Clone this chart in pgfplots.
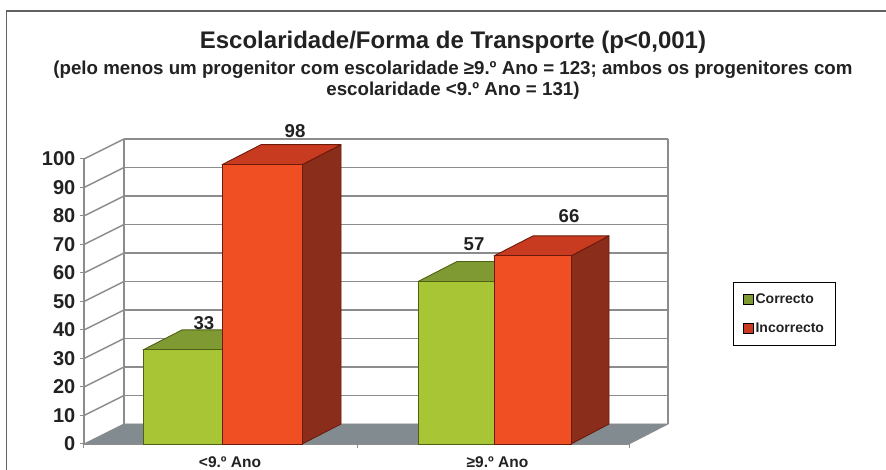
\documentclass[border=0pt]{standalone}
\usepackage{fontspec}
\setmainfont{Liberation Sans}
\usepackage{pgfplots}
\pgfplotsset{compat=1.18}
\definecolor{gfront}{HTML}{A8C535}
\definecolor{gtop}{HTML}{7F9A33}
\definecolor{gline}{HTML}{4F6014}
\definecolor{rfront}{HTML}{F04E23}
\definecolor{rtop}{HTML}{C93B20}
\definecolor{rside}{HTML}{8A2E1B}
\definecolor{rline}{HTML}{6B1A0C}
\definecolor{floorc}{HTML}{828C90}
\definecolor{gridc}{HTML}{8C8C8C}
\definecolor{ink}{HTML}{222222}
\newcommand{\fs}[1]{\fontsize{#1}{#1}\selectfont\bfseries}
\pgfplotsset{
  poly/.style={forget plot,mark=none,line width=0.9pt,line join=round},
  gridl/.style={forget plot,mark=none,draw=gridc,line width=1.4pt},
  bar3/.style={forget plot,ybar,bar shift=0pt,line width=0.9pt},
}
\begin{document}
\begin{tikzpicture}
\path[use as bounding box] (-84pt,-26pt) rectangle (802pt,444pt);
\fill[white] (-84pt,-26pt) rectangle (802pt,444pt);
\begin{axis}[
  scale only axis,width=545pt,height=285pt,
  xmin=84,xmax=629,ymin=0,ymax=100,clip=false,
  axis x line*=bottom,axis y line*=left,
  axis line style={draw=gridc,line width=1.5pt,-},
  ytick={0,10,...,100},
  xtick={230,497.5},xticklabels={{<9.º Ano},{≥9.º Ano}},
  minor xtick={84,357,629},
  tick align=outside,
  tick style={draw=gridc,line width=1pt},
  major tick length=4pt,minor tick length=4pt,
  every major x tick/.append style={draw=none},
  /pgf/number format/assume math mode=true,
  yticklabel style={font=\fs{20},text=ink,xshift=-2.5pt,inner sep=2pt},
  xticklabel style={font=\fs{15.5},text=ink,inner sep=0pt,yshift=-8pt},
  title={{\fs{24}Escolaridade/Forma de Transporte (p<0,001)}\\[7pt]
         {\fs{18.7}(pelo menos um progenitor com escolaridade ≥9.º Ano = 123; ambos os progenitores com}\\[2pt]
         {\fs{18.7}escolaridade <9.º Ano = 131)}},
  title style={at={(axis description cs:0.677,1.43)},anchor=north,align=center,text=ink,inner sep=0pt},
  legend style={at={(axis description cs:1.1908,0.570)},anchor=north west,draw=black,line width=0.8pt,
    font=\fs{14},text=ink,inner xsep=9.4pt,inner ysep=9.5pt,
    nodes={inner sep=2pt},row sep=14.5pt},
  legend cell align=left,
  legend image code/.code={\fill[#1] (0pt,-5pt) rectangle (10pt,5pt);},
]
% back wall gridlines
\addplot[gridl] coordinates {(124,17.02) (668,17.02)};
\addplot[gridl] coordinates {(124,27.02) (668,27.02)};
\addplot[gridl] coordinates {(124,37.02) (668,37.02)};
\addplot[gridl] coordinates {(124,47.02) (668,47.02)};
\addplot[gridl] coordinates {(124,57.02) (668,57.02)};
\addplot[gridl] coordinates {(124,67.02) (668,67.02)};
\addplot[gridl] coordinates {(124,77.02) (668,77.02)};
\addplot[gridl] coordinates {(124,87.02) (668,87.02)};
\addplot[gridl] coordinates {(124,97.02) (668,97.02)};
\addplot[gridl] coordinates {(124,107.02) (668,107.02)};
\addplot[gridl] coordinates {(124,7.02) (124,107.02)};
\addplot[gridl] coordinates {(668,7.02) (668,107.02)};
% side wall lines
\addplot[gridl] coordinates {(84,10) (124,17.02)};
\addplot[gridl] coordinates {(84,20) (124,27.02)};
\addplot[gridl] coordinates {(84,30) (124,37.02)};
\addplot[gridl] coordinates {(84,40) (124,47.02)};
\addplot[gridl] coordinates {(84,50) (124,57.02)};
\addplot[gridl] coordinates {(84,60) (124,67.02)};
\addplot[gridl] coordinates {(84,70) (124,77.02)};
\addplot[gridl] coordinates {(84,80) (124,87.02)};
\addplot[gridl] coordinates {(84,90) (124,97.02)};
\addplot[gridl] coordinates {(84,100) (124,107.02)};
% floor
\addplot[poly,fill=floorc,draw=gridc] coordinates {(84,0) (629,0) (668,7.02) (124,7.02)} -- cycle;
% group 1 green
\addplot[poly,fill=gtop,draw=gline] coordinates {(143,33) (222,33) (261,40.02) (182,40.02)} -- cycle;
\addplot[bar3,bar width=79,fill=gfront,draw=gline] coordinates {(182.5,33)};
% group 1 red
\addplot[poly,fill=rside,draw=rline] coordinates {(302,0) (341,7.02) (341,105.02) (302,98)} -- cycle;
\addplot[poly,fill=rtop,draw=rline] coordinates {(222,98) (302,98) (341,105.02) (261,105.02)} -- cycle;
\addplot[bar3,bar width=80,fill=rfront,draw=rline] coordinates {(262,98)};
% group 2 green
\addplot[poly,fill=gtop,draw=gline] coordinates {(418,57) (494,57) (533,64.02) (457,64.02)} -- cycle;
\addplot[bar3,bar width=76,fill=gfront,draw=gline] coordinates {(456,57)};
% group 2 red
\addplot[poly,fill=rside,draw=rline] coordinates {(571,0) (609,7.02) (609,73.02) (571,66)} -- cycle;
\addplot[poly,fill=rtop,draw=rline] coordinates {(494,66) (571,66) (609,73.02) (533,73.02)} -- cycle;
\addplot[bar3,bar width=77,fill=rfront,draw=rline] coordinates {(532.5,66)};
% value labels
\node[font=\fs{18.6},text=ink] at (axis cs:204,42.5) {33};
\node[font=\fs{18.6},text=ink] at (axis cs:295,109.8) {98};
\node[font=\fs{18.6},text=ink] at (axis cs:474,70.2) {57};
\node[font=\fs{18.6},text=ink] at (axis cs:569,80) {66};
\addlegendimage{fill=gtop}
\addlegendentry{Correcto}
\addlegendimage{fill=rtop}
\addlegendentry{Incorrecto}
\end{axis}
\draw[draw=gridc!70!black,line width=1.4pt] (-77.5pt,-26pt) -- (-77.5pt,433pt) -- (802pt,433pt);
\end{tikzpicture}
\end{document}
